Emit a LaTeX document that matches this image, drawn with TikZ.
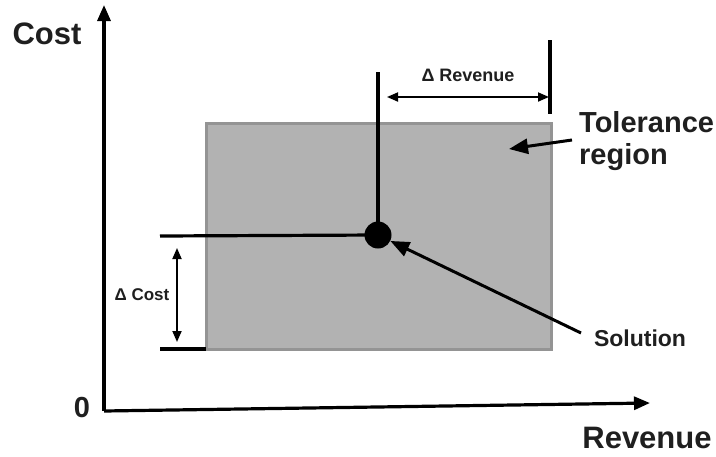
\documentclass[tikz,border=0pt]{standalone}
\usepackage{fontspec}
\setmainfont{Liberation Sans}
\usetikzlibrary{arrows.meta}
\begin{document}
\begin{tikzpicture}[x=1pt,y=-1pt,
  lbl/.style={text=black!88, inner sep=0pt},
  ax/.style={line width=3.2pt, -{Triangle[length=16pt,width=13pt]}},
  dim/.style={line width=1.8pt, {Triangle[length=11pt,width=9pt]}-{Triangle[length=11pt,width=9pt]}},
  ptr/.style={line width=3pt, -{Triangle[length=19pt,width=15pt]}},
  bar/.style={line width=3.2pt}]
\useasboundingbox (0,0) rectangle (716,456);
% tolerance region
\node[draw=black!42, fill=black!30, line width=3pt, minimum width=345pt, minimum height=226pt, inner sep=0pt] (reg) at (378.5,236) {};
% axes
\coordinate (o) at (104,411);
\coordinate (ytip) at (104,5);
\coordinate (xtip) at (650,403);
\draw[ax] (o) -- (ytip);
\draw[ax] (o) -- (xtip);
\node[lbl, font=\bfseries\fontsize{31}{36}\selectfont] (costlbl) at (47,34) {Cost};
\node[lbl, font=\bfseries\fontsize{29}{34}\selectfont] (zero) at (82,408) {0};
\node[lbl, font=\bfseries\fontsize{31}{36}\selectfont] (revlbl) at (647,438) {Revenue};
% solution
\node[circle, fill=black, minimum size=27pt, inner sep=0pt] (sol) at (378,235) {};
\coordinate (vtop) at (378,72);
\coordinate (hleft) at (160,236);
\draw[bar] (vtop) -- (sol.center);
\draw[bar] (hleft) -- (sol.center);
% delta cost
\coordinate (bl) at (160,349);
\coordinate (br) at (206,349);
\draw[bar] (bl) -- (br);
\coordinate (dc1) at (177,248);
\coordinate (dc2) at (177,342);
\draw[dim] (dc1) -- (dc2);
\node[lbl, font=\bfseries\fontsize{17}{20}\selectfont] (dcost) at (142,295) {Δ Cost};
% delta revenue
\coordinate (rb1) at (550,40);
\coordinate (rb2) at (550,114);
\draw[bar] (rb1) -- (rb2);
\coordinate (dr1) at (387,97);
\coordinate (dr2) at (549,97);
\draw[dim] (dr1) -- (dr2);
\node[lbl, font=\bfseries\fontsize{18}{20}\selectfont] (drev) at (468,75) {Δ Revenue};
% tolerance label
\node[lbl, font=\bfseries\fontsize{29}{32}\selectfont, align=left, anchor=west] (tol) at (579,141) {Tolerance\\region};
\coordinate (tolstart) at (572,140);
\coordinate (tolarr) at (509,149);
\draw[ptr] (tolstart) -- (tolarr);
% solution label
\node[lbl, font=\bfseries\fontsize{23}{26}\selectfont] (sollbl) at (640,338) {Solution};
\coordinate (solstart) at (581,333);
\draw[ptr] (solstart) -- (sol);
\end{tikzpicture}
\end{document}
